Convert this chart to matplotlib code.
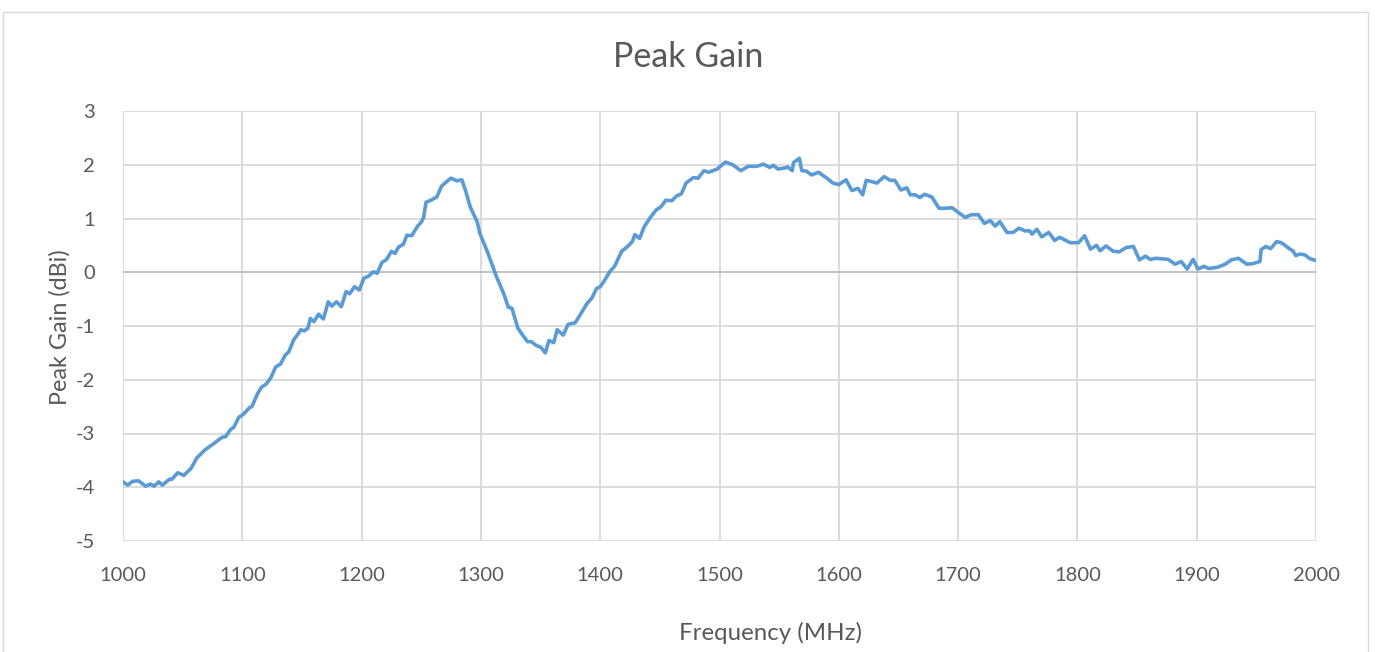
import matplotlib
matplotlib.use("Agg")
import matplotlib.pyplot as plt
import matplotlib.patches as patches

plt.rcParams['font.family'] = ['Lato', 'DejaVu Sans']
plt.rcParams['axes.unicode_minus'] = False  # plain hyphen like the reference

# frequency (MHz) and peak gain (dBi)
freq = [1000, 1004, 1008, 1013, 1019, 1023, 1026, 1030, 1033, 1039, 1041, 1046, 1051, 1057,
        1062, 1069, 1076, 1083, 1086, 1090, 1093, 1097, 1101, 1106, 1108, 1113, 1116, 1120,
        1124, 1128, 1132, 1136, 1139, 1143, 1147, 1149, 1152, 1155, 1157, 1160, 1164, 1168,
        1172, 1175, 1179, 1183, 1187, 1190, 1194, 1198, 1202, 1206, 1210, 1213, 1217, 1221,
        1225, 1228, 1231, 1235, 1238, 1242, 1247, 1250, 1252, 1254, 1258, 1263, 1267, 1272,
        1275, 1280, 1284, 1287, 1291, 1297, 1299, 1306, 1313, 1319, 1323, 1326, 1331, 1335,
        1339, 1342, 1347, 1350, 1354, 1357, 1361, 1364, 1369, 1373, 1379, 1383, 1389, 1393,
        1397, 1400, 1404, 1408, 1412, 1418, 1423, 1427, 1429, 1433, 1437, 1442, 1447, 1451,
        1455, 1460, 1464, 1468, 1472, 1478, 1482, 1487, 1491, 1498, 1505, 1511, 1518, 1524,
        1531, 1537, 1542, 1545, 1549, 1555, 1557, 1561, 1562, 1567, 1569, 1573, 1577, 1583,
        1590, 1595, 1600, 1606, 1611, 1616, 1620, 1623, 1627, 1632, 1638, 1643, 1647, 1652,
        1657, 1660, 1664, 1668, 1672, 1678, 1684, 1689, 1695, 1701, 1706, 1711, 1717, 1722,
        1727, 1731, 1735, 1741, 1746, 1751, 1756, 1760, 1762, 1766, 1770, 1776, 1781, 1785,
        1794, 1801, 1806, 1811, 1816, 1819, 1824, 1830, 1835, 1841, 1847, 1852, 1857, 1861,
        1866, 1876, 1882, 1887, 1892, 1897, 1901, 1906, 1910, 1917, 1924, 1929, 1935, 1942,
        1947, 1953, 1954, 1958, 1962, 1967, 1971, 1977, 1981, 1983, 1987, 1991, 1995, 2000]
gain = [-3.90, -3.96, -3.89, -3.88, -3.98, -3.94, -3.98, -3.90, -3.96, -3.85, -3.85, -3.73, -3.78, -3.65,
        -3.45, -3.30, -3.19, -3.07, -3.06, -2.93, -2.88, -2.70, -2.64, -2.52, -2.50, -2.25, -2.14, -2.08,
        -1.96, -1.76, -1.71, -1.54, -1.48, -1.26, -1.14, -1.07, -1.09, -1.04, -0.86, -0.92, -0.78, -0.87,
        -0.55, -0.63, -0.55, -0.64, -0.36, -0.40, -0.27, -0.33, -0.11, -0.07, 0.01, -0.02, 0.18, 0.24,
        0.39, 0.35, 0.47, 0.52, 0.69, 0.68, 0.86, 0.93, 1.02, 1.30, 1.34, 1.40, 1.60, 1.70,
        1.75, 1.70, 1.72, 1.53, 1.22, 0.93, 0.73, 0.35, -0.08, -0.39, -0.65, -0.67, -1.04, -1.17,
        -1.29, -1.29, -1.37, -1.39, -1.50, -1.27, -1.31, -1.07, -1.17, -0.97, -0.94, -0.80, -0.58, -0.48,
        -0.30, -0.27, -0.14, 0.01, 0.11, 0.39, 0.48, 0.57, 0.70, 0.63, 0.85, 1.02, 1.16, 1.22,
        1.34, 1.33, 1.42, 1.46, 1.66, 1.76, 1.75, 1.89, 1.86, 1.92, 2.05, 2.00, 1.89, 1.97,
        1.97, 2.01, 1.95, 1.99, 1.92, 1.94, 1.96, 1.89, 2.04, 2.12, 1.89, 1.88, 1.81, 1.86,
        1.75, 1.66, 1.63, 1.72, 1.52, 1.56, 1.44, 1.71, 1.69, 1.66, 1.78, 1.71, 1.71, 1.53,
        1.57, 1.44, 1.44, 1.39, 1.45, 1.40, 1.19, 1.19, 1.20, 1.10, 1.02, 1.07, 1.07, 0.91,
        0.96, 0.86, 0.94, 0.74, 0.74, 0.82, 0.77, 0.77, 0.71, 0.80, 0.66, 0.74, 0.59, 0.65,
        0.55, 0.55, 0.68, 0.43, 0.50, 0.40, 0.49, 0.39, 0.38, 0.46, 0.48, 0.23, 0.30, 0.24,
        0.26, 0.24, 0.15, 0.20, 0.06, 0.24, 0.06, 0.11, 0.07, 0.09, 0.15, 0.23, 0.26, 0.15,
        0.16, 0.20, 0.42, 0.48, 0.44, 0.57, 0.55, 0.45, 0.39, 0.31, 0.34, 0.32, 0.25, 0.22]

xticks = list(range(1000, 2001, 100))
yticks = list(range(-5, 4))

txt = '#595959'
grid = '#D9D9D9'

fig = plt.figure(figsize=(13.75, 6.52), dpi=100)
# chart area border
fig.patches.append(patches.Rectangle((3 / 1375, -0.05), 1365 / 1375, 1.05 - 12 / 652,
                                     transform=fig.transFigure, fill=False,
                                     edgecolor=grid, linewidth=1.0))

ax = fig.add_axes([123 / 1375, 1 - 541 / 652, 1193 / 1375, 430 / 652])
ax.plot(freq, gain, color='#5B9BD5', linewidth=2.6, solid_joinstyle='round', zorder=3)
ax.axhline(0, color='#BFBFBF', linewidth=1.2, zorder=2)

ax.set_xlim(1000, 2000)
ax.set_ylim(-5, 3)
ax.set_xticks(xticks)
ax.set_yticks(yticks)
ax.grid(True, color=grid, linewidth=1.3)
ax.set_axisbelow(True)
for s in ax.spines.values():
    s.set_visible(False)
ax.tick_params(length=0, labelsize=14.5, labelcolor=txt)
ax.tick_params(axis='x', pad=19)
ax.tick_params(axis='y', pad=20)

fig.text(688 / 1375, 1 - 57 / 652, 'Peak Gain', ha='center', va='center', fontsize=24.5, color=txt)
fig.text(770 / 1375, 1 - 633 / 652, 'Frequency (MHz)', ha='center', va='center', fontsize=17.3, color=txt)
fig.text(60 / 1375, 1 - 327 / 652, 'Peak Gain (dBi)', ha='center', va='center', fontsize=16.8,
         color=txt, rotation=90)

fig.savefig('out.png', dpi=100)
